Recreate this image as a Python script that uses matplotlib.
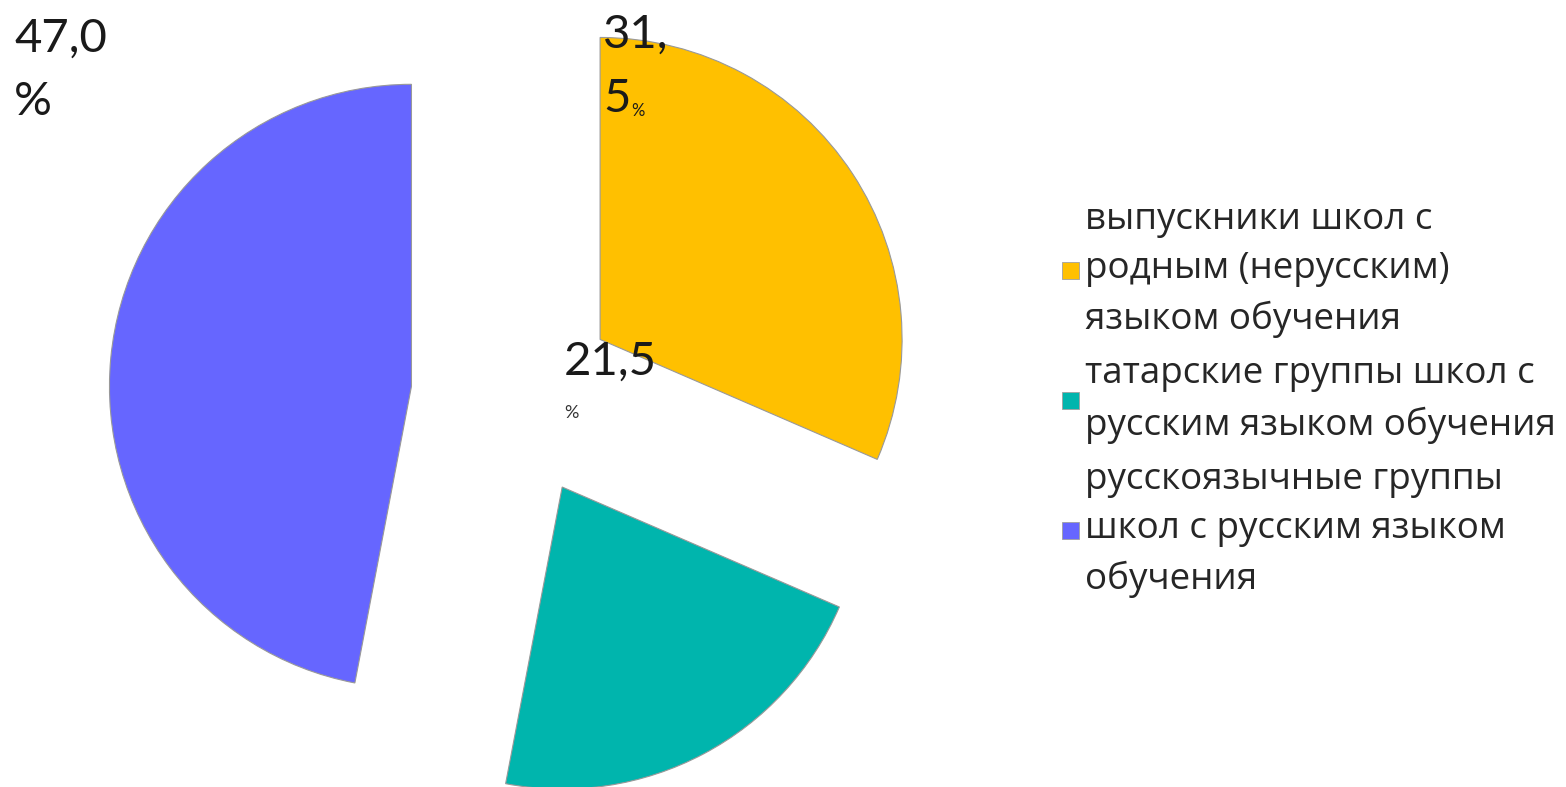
import matplotlib
matplotlib.use('Agg')
import matplotlib.pyplot as plt
from matplotlib.patches import Rectangle

# доли выпускников, %
kategorii = ['выпускники школ с\nродным (нерусским)\nязыком обучения',
             'татарские группы школ с\nрусским языком обучения',
             'русскоязычные группы\nшкол с русским языком\nобучения']
doli = [31.5, 21.5, 47.0]
cveta = ['#FFC000', '#00B5AD', '#6666FF']

W, H = 1566, 787
fig = plt.figure(figsize=(W / 100, H / 100), dpi=100)
ax = fig.add_axes([0, 0, 1, 1])

ax.pie(doli, colors=cveta, startangle=90, counterclock=False,
       radius=302, center=(514, H - 396), explode=[103, 103, 103],
       wedgeprops=dict(edgecolor='#999999', linewidth=0.8), frame=True)
ax.set_xlim(0, W)
ax.set_ylim(0, H)
ax.set_aspect('auto')
ax.axis('off')

# подписи данных
podpisi = [f'{v:.1f}'.replace('.', ',') for v in doli]
shrift = 'Lato'
cvet_t = '#1a1a1a'
# 31,5 : "31," / "5" + маленький %
ax.text(603, H - 48, podpisi[0][:3], fontsize=34, family=shrift, color=cvet_t, va='baseline')
ax.text(603, H - 112, podpisi[0][3:], fontsize=34, family=shrift, color=cvet_t, va='baseline')
ax.text(631, H - 116, '%', fontsize=12, family=shrift, color=cvet_t, va='baseline')
# 21,5 / маленький %
ax.text(564, H - 375, podpisi[1], fontsize=34, family=shrift, color=cvet_t, va='baseline')
ax.text(564, H - 418, '%', fontsize=13, family=shrift, color='#333333', va='baseline')
# 47,0 / %
ax.text(14, H - 52, podpisi[2], fontsize=34, family=shrift, color=cvet_t, va='baseline')
ax.text(14, H - 115, '%', fontsize=34, family=shrift, color=cvet_t, va='baseline')

# легенда
centry = [270, 400, 530]
for kat, cv, yc in zip(kategorii, cveta, centry):
    ax.add_patch(Rectangle((1062, H - yc - 9), 17, 17, facecolor=cv,
                           edgecolor='#a0a0a0', linewidth=0.6))
    ax.text(1085, H - yc, kat, fontsize=26.5, family='Open Sans', color='#262626',
            va='center', ha='left', linespacing=1.5)

fig.savefig('out.png', dpi=100)
